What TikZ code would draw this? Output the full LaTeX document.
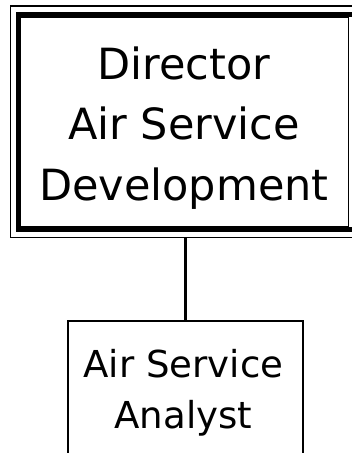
\documentclass[tikz,border=0pt]{standalone}
\usepackage{fontspec}
\setmainfont{DejaVu Sans}
\begin{document}
\begin{tikzpicture}[x=1pt,y=1pt,
  frame/.style={draw=black, rectangle, inner sep=0pt},
  label/.style={align=center, inner sep=0pt, anchor=base, text=black}]
  % canvas
  \path[use as bounding box, clip] (0,0) rectangle (352,-453);
  \fill[white] (0,0) rectangle (352,-453);

  % Director: outer thin frame, heavy frame, inner hairline
  \node[frame, line width=1.3pt, minimum width=360, minimum height=231.5]
    (dirouter) at (190.5,-121.75) {};
  \node[frame, line width=4.6pt, minimum width=342, minimum height=215]
    (dirbox) at (189,-122) {};
  \draw[line width=1.2pt] (20,-17) rectangle (348.5,-227);
  % anchor=base sits on the last line's baseline
  \node[label, font=\fontsize{43}{60.7}\selectfont]
    (dir) at (184,-200.5) {Director\\Air Service\\Development};

  % Analyst box (runs past the lower edge)
  \node[frame, line width=2pt, minimum width=235, minimum height=170]
    (analyst) at (185.5,-406) {};
  \node[label, font=\fontsize{37.1}{51}\selectfont]
    (analysttext) at (183.5,-428) {Air Service\\Analyst};

  % reporting line
  \draw[line width=3pt] (dirouter.south -| analyst.north) -- (analyst.north);
\end{tikzpicture}
\end{document}
